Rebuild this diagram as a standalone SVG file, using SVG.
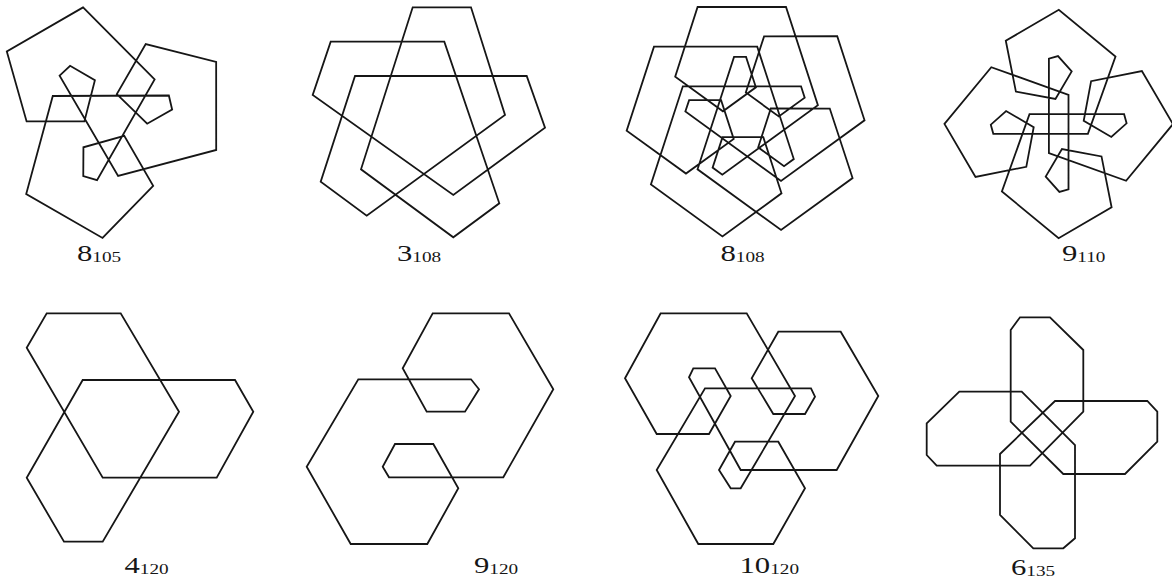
<svg xmlns="http://www.w3.org/2000/svg" width="1172" height="587" viewBox="0 0 1172 587">
<style>
.k{fill:none;stroke:#161616;stroke-width:1.8;stroke-linejoin:miter;stroke-miterlimit:10}
.l{font-family:"Liberation Serif","Times New Roman",serif;font-size:24px;fill:#161616}
.s{font-size:15px}
</style>
<rect width="1172" height="587" fill="#fff"/>
<g id="k8_105">
<polygon class="k" points="83.1,7.4 6.8,51.5 26.6,121.4 84.4,121.4 94.9,80.3 70.1,65.8 59.6,75.65 118.1,175.9 216.2,149.95 216.16,61.83 145.73,44.02 116.83,94.08 147.17,123.72 172.13,109.5 168.85,95.48 52.78,96.01 26.2,193.95 102.54,237.97 153.17,185.88 124.27,135.82 83.43,147.28 83.27,176 97.05,180.18 154.62,79.39"/>
<g transform="translate(77,261) scale(1.28,1)"><text class="l">8<tspan class="s" dy="1">105</tspan></text></g>
</g>
<g id="k3_108">
<polygon class="k" points="412.7,7.3 471,7.3 505,115 366.7,215.7 320.7,181.7 355,76 526.7,76 545,127.7 453.3,195 312.7,95 330.7,41.7 444.3,41.7 499.3,203.3 453.3,237.3 361,169.3"/>
<g transform="translate(397,261) scale(1.28,1)"><text class="l">3<tspan class="s" dy="1">108</tspan></text></g>
</g>
<g id="k8_108">
<polygon class="k" points="697.6,7 786,7 817.9,105.2 722.3,174.7 712.6,167.6 722.5,137.2 763.3,137.2 781.5,193.3 722.44,236.47 650.92,184.51 682.83,86.31 801.03,86.28 804.7,97.73 778.82,116.5 745.82,92.52 764.07,36.44 837.22,36.22 864.54,120.3 781.01,180.98 685.36,111.53 689.12,100.12 721.09,100.14 733.7,138.95 685.97,173.59 626.66,130.76 653.98,46.68 757.23,46.7 793.78,159.09 784.04,166.12 758.19,147.32 770.79,108.51 829.77,108.53 852.58,178.05 781.06,230.01 697.53,169.31 734.03,56.9 746.04,56.93 755.9,87.34 722.9,111.32 675.19,76.64"/>
<g transform="translate(720.5,261) scale(1.28,1)"><text class="l">8<tspan class="s" dy="1">108</tspan></text></g>
</g>
<g id="k9_110">
<polygon class="k" points="1005.8,40.8 1015.9,91.6 1055.45,99 1071.7,71.4 1058,56.1 1048.9,58.6 1048.9,153.2 1126.1,180.8 1172.95,124.1 1141.9,71.1 1091.1,81.2 1083.7,120.75 1111.3,137 1126.6,123.3 1124.1,114.2 1029.5,114.2 1001.9,191.4 1058.6,238.25 1111.6,207.2 1101.5,156.4 1061.95,149 1045.7,176.6 1059.4,191.9 1068.5,189.4 1068.5,94.8 991.3,67.2 944.45,123.9 975.5,176.9 1026.3,166.8 1033.7,127.25 1006.1,111 990.8,124.7 993.3,133.8 1087.9,133.8 1115.5,56.6 1058.8,9.75"/>
<g transform="translate(1062,261) scale(1.28,1)"><text class="l">9<tspan class="s" dy="1">110</tspan></text></g>
</g>
<g id="k4_120">
<polygon class="k" points="46.7,313.3 120.7,313.3 179,411.7 102.7,541.7 64,541.7 26.7,477.7 82.7,380 235,380 253.3,411.7 216.7,477.7 102.7,477.7 26.7,347.7"/>
<g transform="translate(124.5,573) scale(1.28,1)"><text class="l">4<tspan class="s" dy="1">120</tspan></text></g>
</g>
<g id="k9_120">
<polygon class="k" points="432.7,313.3 509,313.3 553.3,389.3 503.3,477.3 389,477.3 382.7,466.7 395,444 433.3,444 458.3,488.3 427.3,544 350.7,544 306.7,466.7 358.3,379.3 471,379.3 479,389.3 465,411.7 426.7,411.7 402.7,368.3"/>
<g transform="translate(474,573) scale(1.28,1)"><text class="l">9<tspan class="s" dy="1">120</tspan></text></g>
</g>
<g id="k10_120">
<polygon class="k" points="660.7,313.3 625,378.3 656.7,434 709,434 730.7,396 715,368.3 693.3,368.3 689,377.3 740.7,470 836.7,470 878.3,396 840.7,331.7 778.3,331.7 751.7,378.3 773.3,414 805,414 815,396.7 811,388.3 705,388.3 656.7,470 698.3,544 773.3,544 805,488.3 778.3,441.7 735,441.7 719,470 730.7,488.3 740.7,488.3 795,396 746.7,313.3"/>
<g transform="translate(739.5,573) scale(1.28,1)"><text class="l">10<tspan class="s" dy="1">120</tspan></text></g>
</g>
<g id="k6_135">
<polygon class="k" points="1010.7,330 1020,317.3 1050,317.3 1083.3,350 1083.3,411.7 1030,465.7 936.7,465.7 926.7,455 926.7,423.3 959.3,391.7 1021.7,391.7 1075,445 1075,538.3 1063.3,548.3 1033.3,548.3 1000,515 1000,454 1055,401 1147.3,401 1157.3,411.7 1157.3,441.7 1125,474 1063.3,474 1010.7,421.7"/>
<g transform="translate(1011,575) scale(1.28,1)"><text class="l">6<tspan class="s" dy="1">135</tspan></text></g>
</g>
</svg>
